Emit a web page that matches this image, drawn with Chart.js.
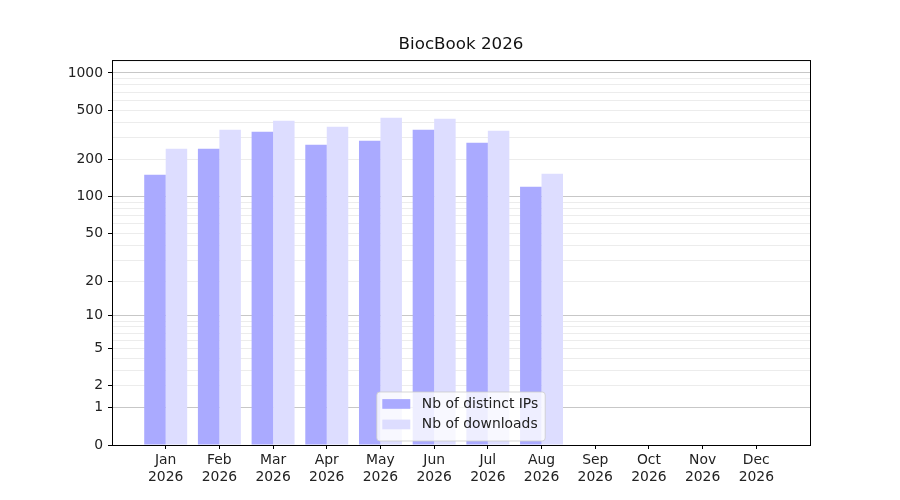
<!DOCTYPE html>
<html lang="en">
<head>
  <meta charset="UTF-8">
  <title>BiocBook 2026</title>
  <script src="https://cdn.jsdelivr.net/npm/chart.js"></script>
  <style>
    body { margin: 0; background: #fff; }
    canvas { display: block; }
  </style>
</head>
<body>
  <canvas id="chart" width="900" height="500"></canvas>

  <script>
    const months = ['Jan', 'Feb', 'Mar', 'Apr', 'May', 'Jun', 'Jul', 'Aug', 'Sep', 'Oct', 'Nov', 'Dec'];
    const year = '2026';
    const distinctIPs = [150, 244, 335, 263, 283, 348, 273, 120];
    const downloads = [244, 348, 411, 368, 435, 427, 341, 153];
    const yLabels = [0, 1, 2, 5, 10, 20, 50, 100, 200, 500, 1000];
    const yMajors = [1, 10, 100, 1000];
    const yMax = 1272;

    // minor grid positions 2..9, 20..90, 200..900
    const yGrid = [0];
    [1, 10, 100].forEach(d => { for (let k = 1; k < 10; k++) yGrid.push(k * d); });
    yGrid.push(1000);

    const FONT = 'DejaVu Sans';
    const f = v => Math.log10(1 + v);

    // y scale: log10(1 + v), like matplotlib's symlog look
    class Log1pScale extends Chart.Scale {
      static id = 'log1p';
      static defaults = {};
      determineDataLimits() {
        this.min = this.options.min ?? 0;
        this.max = this.options.max ?? this.getMinMax(true).max;
      }
      buildTicks() {
        return (this.options.ticks.values || []).map(v => ({ value: v }));
      }
      configure() {
        super.configure();
        this._lo = f(this.min);
        this._span = f(this.max) - this._lo;
      }
      getLabelForValue(v) { return String(v); }
      getPixelForValue(v) {
        return this.getPixelForDecimal((f(v) - this._lo) / this._span);
      }
      getValueForPixel(p) {
        return Math.pow(10, this._lo + this.getDecimalForPixel(p) * this._span) - 1;
      }
    }
    Chart.register(Log1pScale);

    const frameAndLegend = {
      id: 'frameAndLegend',
      afterDraw(chart) {
        const { ctx, chartArea: a } = chart;
        ctx.save();
        ctx.strokeStyle = '#000';
        ctx.lineWidth = 1;
        ctx.strokeRect(a.left + 0.5, a.top + 0.5, a.right - a.left, a.bottom - a.top);

        // legend, lower centre inside the axes
        ctx.font = '13.9px "' + FONT + '"';
        const sets = chart.data.datasets;
        const textW = Math.max(...sets.map(s => ctx.measureText(s.label).width));
        const w = 5.5 + 28 + 11.5 + textW + 7;
        const h = 49;
        const x0 = (a.left + a.right) / 2 - w / 2;
        const y0 = a.bottom - 4 - h;
        ctx.beginPath();
        ctx.roundRect(x0, y0, w, h, 3);
        ctx.fillStyle = 'rgba(255,255,255,0.8)';
        ctx.fill();
        ctx.strokeStyle = 'rgba(204,204,204,0.8)';
        ctx.stroke();
        ctx.textBaseline = 'middle';
        sets.forEach((s, i) => {
          const cy = y0 + 12 + i * 20.5;
          ctx.fillStyle = s.backgroundColor;
          ctx.fillRect(x0 + 5.5, cy - 4.9, 28, 9.7);
          ctx.fillStyle = '#222';
          ctx.fillText(s.label, x0 + 45, cy);
        });
        ctx.restore();
      }
    };

    new Chart(document.getElementById('chart'), {
      type: 'bar',
      data: {
        datasets: [{
          label: 'Nb of distinct IPs',
          data: distinctIPs.map((v, i) => ({ x: i, y: v })),
          backgroundColor: '#aaaaff'
        }, {
          label: 'Nb of downloads',
          data: downloads.map((v, i) => ({ x: i, y: v })),
          backgroundColor: '#ddddff'
        }]
      },
      options: {
        responsive: false,
        animation: false,
        events: [],
        layout: { padding: { top: 0, right: 90, bottom: 0, left: 0 } },
        datasets: { bar: { categoryPercentage: 0.8, barPercentage: 1.0 } },
        font: { family: FONT, size: 13.9 },
        plugins: {
          legend: { display: false },
          tooltip: { enabled: false },
          title: {
            display: true,
            fullSize: false, // centre over the axes, not the canvas
            text: 'BiocBook 2026',
            color: '#111',
            font: { family: FONT, size: 16.7, weight: 'normal' },
            padding: { top: 35, bottom: 5 }
          }
        },
        scales: {
          x: {
            type: 'linear',
            min: -1,
            max: 12,
            offset: false,
            afterBuildTicks: s => { s.ticks = months.map((m, i) => ({ value: i })); },
            afterFit: s => { s.height = 55; },
            ticks: {
              color: '#222',
              padding: 3,
              maxRotation: 0,
              autoSkip: false,
              font: { family: FONT, size: 13.9 },
              callback: v => [months[v], year]
            },
            grid: { offset: false, drawOnChartArea: false, drawTicks: true, tickLength: 4, tickColor: '#000' },
            border: { display: false }
          },
          y: {
            type: 'log1p',
            min: 0,
            max: yMax,
            z: 1,
            afterFit: s => { s.width = 112; },
            ticks: {
              values: yGrid,
              color: '#222',
              padding: 5,
              autoSkip: false,
              font: { family: FONT, size: 13.9 },
              callback: v => yLabels.includes(v) ? String(v) : ''
            },
            grid: {
              tickLength: 4,
              color: c => c.tick.value === 0 ? 'rgba(0,0,0,0)'
                : yMajors.includes(c.tick.value) ? 'rgba(0,0,0,0.22)' : 'rgba(0,0,0,0.075)',
              tickColor: c => yLabels.includes(c.tick.value) ? '#000' : 'rgba(0,0,0,0)'
            },
            border: { display: false }
          }
        }
      },
      plugins: [frameAndLegend]
    });
  </script>
</body>
</html>
